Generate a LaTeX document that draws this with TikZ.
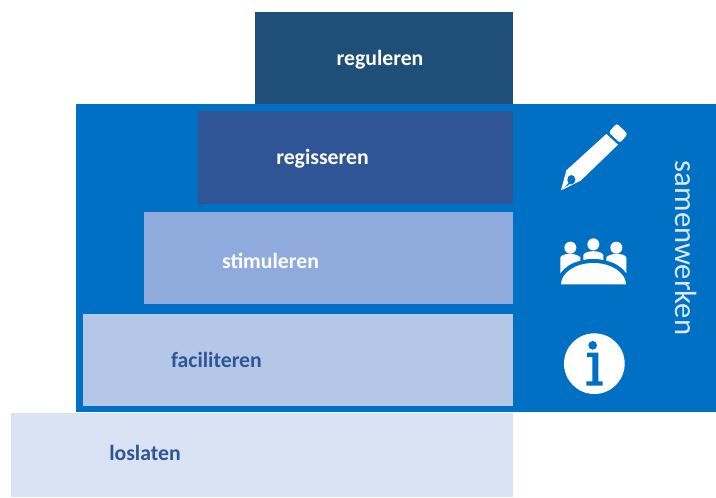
\documentclass[tikz,border=0pt]{standalone}
\usepackage{fontspec}
\setmainfont{Carlito}
\definecolor{bandblue}{HTML}{0070C5}
\definecolor{regul}{HTML}{1F4E79}
\definecolor{regis}{HTML}{2F5597}
\definecolor{stim}{HTML}{8FAADC}
\definecolor{facil}{HTML}{B4C7E7}
\definecolor{losl}{HTML}{DAE3F3}
\definecolor{darktext}{HTML}{2F5597}
\definecolor{lighttext}{HTML}{DCE9F6}
\tikzset{
  x=0.75pt,y=-0.75pt,
  tier/.style={font=\fontsize{16.3pt}{19pt}\selectfont\bfseries},
  whitetier/.style={tier,text=white},
  darktier/.style={tier,text=darktext},
  icon/.style={fill=white,draw=none},
  iconcut/.style={fill=bandblue,draw=none},
}
\begin{document}
\begin{tikzpicture}
\useasboundingbox (0,0) rectangle (716,497);
\fill[white] (0,0) rectangle (716,497);
% panel and tiers
\fill[bandblue] (76,104) rectangle (716,412);
\fill[regul] (255,12) rectangle (513,104);
\fill[regis] (198,111) rectangle (513,204);
\fill[stim] (144,212) rectangle (513,304);
\fill[facil] (83,314) rectangle (513,406);
\fill[losl] (11,413) rectangle (513,497);
% labels
\node[whitetier] (t1) at (380,60) {reguleren};
\node[whitetier] (t2) at (322.5,159) {regisseren};
\node[whitetier] (t3) at (270.5,261) {stimuleren};
\node[darktier] (t4) at (216.5,360) {faciliteren};
\node[darktier] (t5) at (145,453) {loslaten};
\node[rotate=-90,text=lighttext,font=\fontsize{23pt}{26pt}\selectfont] (t6) at (686,248) {samenwerken};
% pencil
\begin{scope}[shift={(530,110)},x=0.25pt,y=-0.25pt]
  \fill[icon,rounded corners=2pt] (260,40) -- (293,72) -- (270,99) -- (236,67) -- cycle;
  \fill[icon] (229,72) -- (264,104) -- (152,212) -- (93,241) -- (109,181) -- cycle;
  \fill[iconcut] (124,209) ellipse [x radius=12,y radius=14];
  \fill[iconcut] (120,214) -- (124,219) -- (103,233) -- cycle;
\end{scope}
% meeting people
\begin{scope}[shift={(530,110)},x=0.25pt,y=-0.25pt]
  \fill[icon] (121,413) circle [radius=18];
  \fill[icon] (190,403) circle [radius=18];
  \fill[icon] (259,413) circle [radius=18];
  \fill[icon] (91,490) -- (91,443) .. controls (95,428) and (140,428) .. (151,442) -- (151,452) .. controls (125,458) and (105,470) .. (91,490) -- cycle;
  \fill[icon] (160,450) -- (160,434) .. controls (170,420) and (210,420) .. (220,434) -- (220,450) .. controls (200,445) and (180,445) .. (160,450) -- cycle;
  \fill[icon] (289,490) -- (289,443) .. controls (285,428) and (240,428) .. (229,442) -- (229,452) .. controls (255,458) and (275,470) .. (289,490) -- cycle;
  \fill[icon] (93,523) .. controls (93,490) and (135,459) .. (190,459) .. controls (245,459) and (288,490) .. (288,523) -- cycle;
\end{scope}
% info
\begin{scope}[shift={(530,290)},x=0.25pt,y=-0.25pt]
  \fill[icon] (193,221) circle [radius=91];
  \fill[iconcut] (188,166) circle [radius=13];
  \fill[iconcut] (171,188) -- (205,188) -- (205,274) -- (218,274) -- (218,287) -- (169,287) -- (169,274) -- (187,274) -- (187,201) -- (171,201) -- cycle;
\end{scope}
\end{tikzpicture}
\end{document}
